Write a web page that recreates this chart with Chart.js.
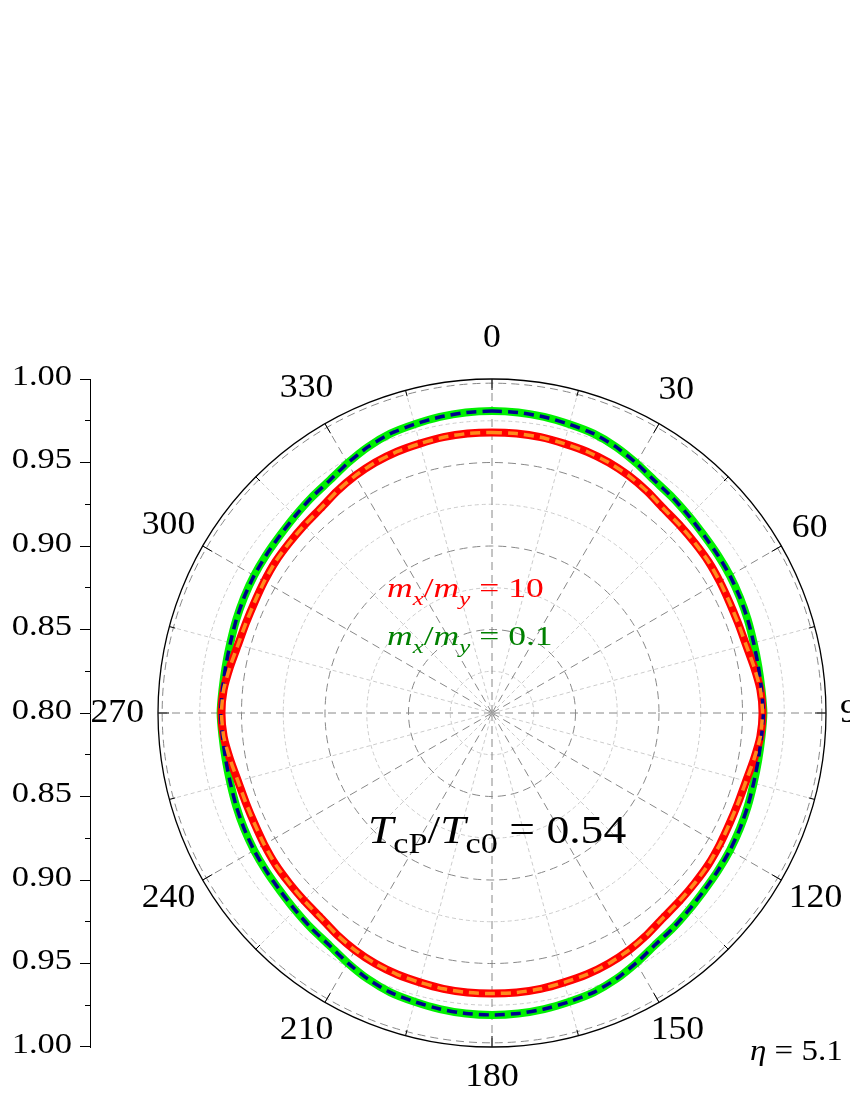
<!DOCTYPE html>
<html>
<head>
<meta charset="utf-8">
<script src="https://cdn.jsdelivr.net/npm/chart.js@4.4.1/dist/chart.umd.min.js"></script>
<style>
  html, body { margin: 0; padding: 0; overflow: hidden; background: #fff; }
  #polar { position: absolute; left: 0; top: 0; }
  #axis { position: absolute; left: 0; top: 339px; }
</style>
</head>
<body>
<canvas id="polar" width="850" height="1100"></canvas>
<canvas id="axis" width="100" height="748"></canvas>
<script>
// angle categories, every 5 degrees (0 at top, clockwise)
const angles = Array.from({ length: 72 }, (_, i) => i * 5);

// m_x/m_y = 10 (red), read every 5 deg
const redCurve = [
  0.968, 0.968, 0.9677, 0.967, 0.9665, 0.9655, 0.964, 0.962, 0.9598, 0.959, 0.9585, 0.9582,
  0.9575, 0.9569, 0.9569, 0.9575, 0.9593, 0.9613, 0.962, 0.9613, 0.9593, 0.9575, 0.9569, 0.9569,
  0.9575, 0.9582, 0.9585, 0.959, 0.9598, 0.962, 0.964, 0.9655, 0.9665, 0.967, 0.9677, 0.968,
  0.968, 0.968, 0.9677, 0.967, 0.9665, 0.9655, 0.964, 0.962, 0.9598, 0.959, 0.9585, 0.9582,
  0.9575, 0.9569, 0.9569, 0.9575, 0.9593, 0.9613, 0.962, 0.9613, 0.9593, 0.9575, 0.9569, 0.9569,
  0.9575, 0.9582, 0.9585, 0.959, 0.9598, 0.962, 0.964, 0.9655, 0.9665, 0.967, 0.9677, 0.968
];

// m_x/m_y = 0.1 (green), read every 5 deg
const greenCurve = [
  0.9808, 0.9806, 0.980, 0.979, 0.978, 0.9758, 0.9728, 0.9698, 0.9683, 0.9668, 0.9656, 0.965,
  0.9645, 0.9638, 0.963, 0.9622, 0.9619, 0.962, 0.9625, 0.962, 0.9619, 0.9622, 0.963, 0.9638,
  0.9645, 0.965, 0.9656, 0.9668, 0.9683, 0.9698, 0.9728, 0.9758, 0.978, 0.979, 0.980, 0.9806,
  0.9808, 0.9806, 0.980, 0.979, 0.978, 0.9758, 0.9728, 0.9698, 0.9683, 0.9668, 0.9656, 0.965,
  0.9645, 0.9638, 0.963, 0.9622, 0.9619, 0.962, 0.9625, 0.962, 0.9619, 0.9622, 0.963, 0.9638,
  0.9645, 0.965, 0.9656, 0.9668, 0.9683, 0.9698, 0.9728, 0.9758, 0.978, 0.979, 0.980, 0.9806
];

// dashed overlays follow the solid curves
const redDashed = redCurve;
const greenDashed = greenCurve;

// radial grid rings and the mirrored left axis values
const ringValues = [0.80, 0.825, 0.85, 0.875, 0.90, 0.925, 0.95, 0.975, 0.9975, 1.00];
const axisValues = [0.80, 0.825, 0.85, 0.875, 0.90, 0.925, 0.95, 0.975, 1.00];

const SERIF = '"Liberation Serif", "Times New Roman", serif';
const MAJOR = '#888888';
const MINOR = '#cccccc';

function ringKind(v) {
  if (Math.abs(v - 1) < 1e-6) return 'outer';
  if (Math.abs(v - 0.9975) < 1e-6) return 'major';
  return Math.round((v - 0.8) / 0.025) % 2 === 0 ? 'major' : 'minor';
}

function spokeKind(i) {
  const a = angles[i];
  if (a % 30 === 0) return 'major';
  if (a % 15 === 0) return 'minor';
  return 'none';
}

// rich text: runs of {t, it, sub}
function drawRich(ctx, x, y, runs, size, color, sx, subScale, subDrop) {
  ctx.save();
  ctx.translate(x, y);
  ctx.scale(sx, 1);
  ctx.fillStyle = color;
  ctx.textAlign = 'left';
  ctx.textBaseline = 'alphabetic';
  let cx = 0;
  runs.forEach(r => {
    const fs = r.sub ? size * subScale : size;
    ctx.font = (r.it ? 'italic ' : '') + fs + 'px ' + SERIF;
    ctx.fillText(r.t, cx, r.sub ? size * subDrop : 0);
    cx += ctx.measureText(r.t).width;
  });
  ctx.restore();
}

// angle labels and the black rim ticks, placed with the radial scale
const angleAxisPlugin = {
  id: 'angleAxis',
  afterDraw(chart) {
    const s = chart.scales.r;
    const ctx = chart.ctx;
    const R = s.drawingArea;
    ctx.save();
    ctx.strokeStyle = '#000';
    ctx.lineWidth = 1;
    angles.forEach((a, i) => {
      const kind = spokeKind(i);
      if (kind === 'none') return;
      const p0 = s.getPointPosition(i, R - (kind === 'major' ? 11 : 6));
      const p1 = s.getPointPosition(i, R);
      ctx.beginPath();
      ctx.moveTo(p0.x, p0.y);
      ctx.lineTo(p1.x, p1.y);
      ctx.stroke();
    });

    const sx = 1.08;
    ctx.font = '33px ' + SERIF;
    ctx.fillStyle = '#000';
    ctx.textAlign = 'center';
    ctx.textBaseline = 'middle';
    angles.forEach((a, i) => {
      if (a % 30 !== 0) return;
      const txt = String(a);
      const hw = ctx.measureText(txt).width * sx / 2;
      const rad = a * Math.PI / 180;
      const off = 14 + Math.hypot(Math.sin(rad) * hw, Math.cos(rad) * 21.5);
      const p = s.getPointPosition(i, R + off);
      ctx.save();
      ctx.translate(p.x, p.y - 5 * Math.cos(rad) * Math.cos(rad));
      ctx.scale(sx, 1);
      ctx.fillText(txt, 0, 0);
      ctx.restore();
    });
    ctx.restore();
  }
};

const notesPlugin = {
  id: 'notes',
  afterDraw(chart) {
    const ctx = chart.ctx;
    drawRich(ctx, 387, 597, [
      { t: 'm', it: true }, { t: 'x', it: true, sub: true }, { t: '/' },
      { t: 'm', it: true }, { t: 'y', it: true, sub: true }, { t: ' = 10' }
    ], 28, '#ff0000', 1.27, 0.7, 0.28);
    drawRich(ctx, 387, 645, [
      { t: 'm', it: true }, { t: 'x', it: true, sub: true }, { t: '/' },
      { t: 'm', it: true }, { t: 'y', it: true, sub: true }, { t: ' = 0.1' }
    ], 28, '#008000', 1.27, 0.7, 0.28);
    drawRich(ctx, 368, 843, [
      { t: 'T', it: true }, { t: 'cP', sub: true }, { t: '/' },
      { t: 'T', it: true }, { t: 'c0', sub: true }, { t: ' = 0.54' }
    ], 40, '#000', 1.14, 0.75, 0.25);
    drawRich(ctx, 750, 1060, [
      { t: 'η', it: true }, { t: ' = 5.1' }
    ], 30, '#000', 1.1, 0.7, 0.25);
  }
};

const polarChart = new Chart(document.getElementById('polar'), {
  type: 'radar',
  data: {
    labels: angles,
    datasets: [
      { label: 'dashed 10', data: redDashed, borderColor: '#ff8a1c', borderWidth: 3.5, borderDash: [10, 6], fill: false },
      { label: 'dashed 0.1', data: greenDashed, borderColor: '#00008f', borderWidth: 3.5, borderDash: [10, 6], fill: false },
      { label: 'mx/my = 10', data: redCurve, borderColor: '#ff0000', borderWidth: 8, fill: false },
      { label: 'mx/my = 0.1', data: greenCurve, borderColor: '#00f000', borderWidth: 8, fill: false }
    ]
  },
  options: {
    responsive: false,
    animation: false,
    layout: { padding: { top: 379, bottom: 53, left: 150, right: 16 } },
    elements: {
      point: { radius: 0, hoverRadius: 0 },
      line: { tension: 0.2, borderJoinStyle: 'round' }
    },
    plugins: { legend: { display: false }, tooltip: { enabled: false } },
    scales: {
      r: {
        min: 0.8,
        max: 1.0,
        afterBuildTicks: s => { s.ticks = ringValues.map(v => ({ value: v })); },
        ticks: { display: false },
        pointLabels: { display: false },
        grid: {
          circular: true,
          color: c => ({ outer: '#000', major: MAJOR, minor: MINOR })[ringKind(c.tick.value)],
          lineWidth: c => ringKind(c.tick.value) === 'outer' ? 1.3 : 1
        },
        border: {
          dash: c => ({ outer: [], major: [8, 5], minor: [4, 3] })[ringKind(c.tick.value)]
        },
        angleLines: {
          color: c => ({ major: MAJOR, minor: MINOR, none: 'rgba(0,0,0,0)' })[spokeKind(c.index)],
          lineWidth: c => spokeKind(c.index) === 'none' ? 0 : 1,
          borderDash: c => spokeKind(c.index) === 'major' ? [8, 5] : [4, 3]
        }
      }
    }
  },
  plugins: [angleAxisPlugin, notesPlugin]
});

// left axis: 1.00 at top, 0.80 at the centre, 1.00 at the bottom
const axisOffsets = axisValues.flatMap(v => v === 0.8 ? [0] : [v - 0.8, 0.8 - v]);
const isMajor = d => Math.round(Math.abs(d) / 0.025) % 2 === 0;

const axisLabelPlugin = {
  id: 'axisLabels',
  afterDraw(chart) {
    const s = chart.scales.y;
    const ctx = chart.ctx;
    ctx.save();
    ctx.font = '30px ' + SERIF;
    ctx.fillStyle = '#000';
    ctx.textAlign = 'right';
    ctx.textBaseline = 'middle';
    s.ticks.forEach(t => {
      if (!isMajor(t.value)) return;
      const y = s.getPixelForValue(t.value);
      ctx.save();
      ctx.translate(s.right - 18, y - 2);
      ctx.scale(1.15, 1);
      ctx.fillText((0.8 + Math.abs(t.value)).toFixed(2), 0, 0);
      ctx.restore();
    });
    ctx.restore();
  }
};

const axisChart = new Chart(document.getElementById('axis'), {
  type: 'scatter',
  data: { datasets: [] },
  options: {
    responsive: false,
    animation: false,
    layout: { padding: { top: 40, bottom: 40, left: 80, right: 0 } },
    plugins: { legend: { display: false }, tooltip: { enabled: false } },
    scales: {
      x: { display: false },
      y: {
        position: 'left',
        min: -0.2,
        max: 0.2,
        afterBuildTicks: s => { s.ticks = axisOffsets.map(v => ({ value: v })); },
        ticks: { display: false },
        grid: {
          drawOnChartArea: false,
          tickLength: 10,
          tickColor: '#000',
          tickWidth: 1,
          tickBorderDash: c => isMajor(c.tick.value) ? [] : [0, 5, 10]
        },
        border: { display: true, color: '#000', width: 1 }
      }
    }
  },
  plugins: [axisLabelPlugin]
});
</script>
</body>
</html>
